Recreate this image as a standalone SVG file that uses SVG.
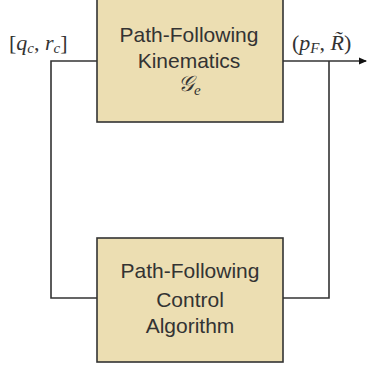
<svg xmlns="http://www.w3.org/2000/svg" width="367" height="369" viewBox="0 0 367 369">
<style>
.box{fill:#ecdeb2;stroke:#333;stroke-width:1.6}
.lbl{font-family:"Liberation Sans","DejaVu Sans",sans-serif;font-size:21px;fill:#333;text-anchor:middle}
.m{font-family:"Liberation Serif","DejaVu Serif",serif;font-size:22px;fill:#333}
.mi{font-style:italic}
.s{font-size:15px}
.w{fill:none;stroke:#333;stroke-width:1.6}
</style>
<defs>
<marker id="ah" markerWidth="8" markerHeight="8" refX="7" refY="4" orient="auto" markerUnits="userSpaceOnUse">
<path d="M0,0.5 L8,4 L0,7.5 Z" fill="#111"/>
</marker>
</defs>
<g id="connectors">
<path class="w" d="M97,61 H51 V298 H97"/>
<path class="w" d="M283,298 H329 V61"/>
<path class="w" d="M283,61 H366" marker-end="url(#ah)"/>
</g>
<g id="kinematics">
<rect class="box" x="97" y="-1" width="186" height="123"/>
<text class="lbl" x="189" y="42">Path-Following</text>
<text class="lbl" x="189" y="68">Kinematics</text>
<text class="m" x="178" y="91"><tspan class="mi" font-family="'DejaVu Serif',serif" font-size="22">𝒢</tspan><tspan class="mi s" dy="4">e</tspan></text>
</g>
<g id="control">
<rect class="box" x="97" y="238" width="186" height="124"/>
<text class="lbl" x="190" y="278">Path-Following</text>
<text class="lbl" x="190" y="307">Control</text>
<text class="lbl" x="190" y="333">Algorithm</text>
</g>
<g id="labels">
<text class="m" x="9" y="50">[<tspan class="mi">q</tspan><tspan class="mi s" dy="3">c</tspan><tspan dy="-3">, </tspan><tspan class="mi">r</tspan><tspan class="mi s" dy="3">c</tspan><tspan dy="-3">]</tspan></text>
<text class="m" x="292" y="50">(<tspan class="mi">p</tspan><tspan class="mi s" dy="3">F</tspan><tspan dy="-3">, </tspan><tspan class="mi">R̃</tspan>)</text>
</g>
</svg>
